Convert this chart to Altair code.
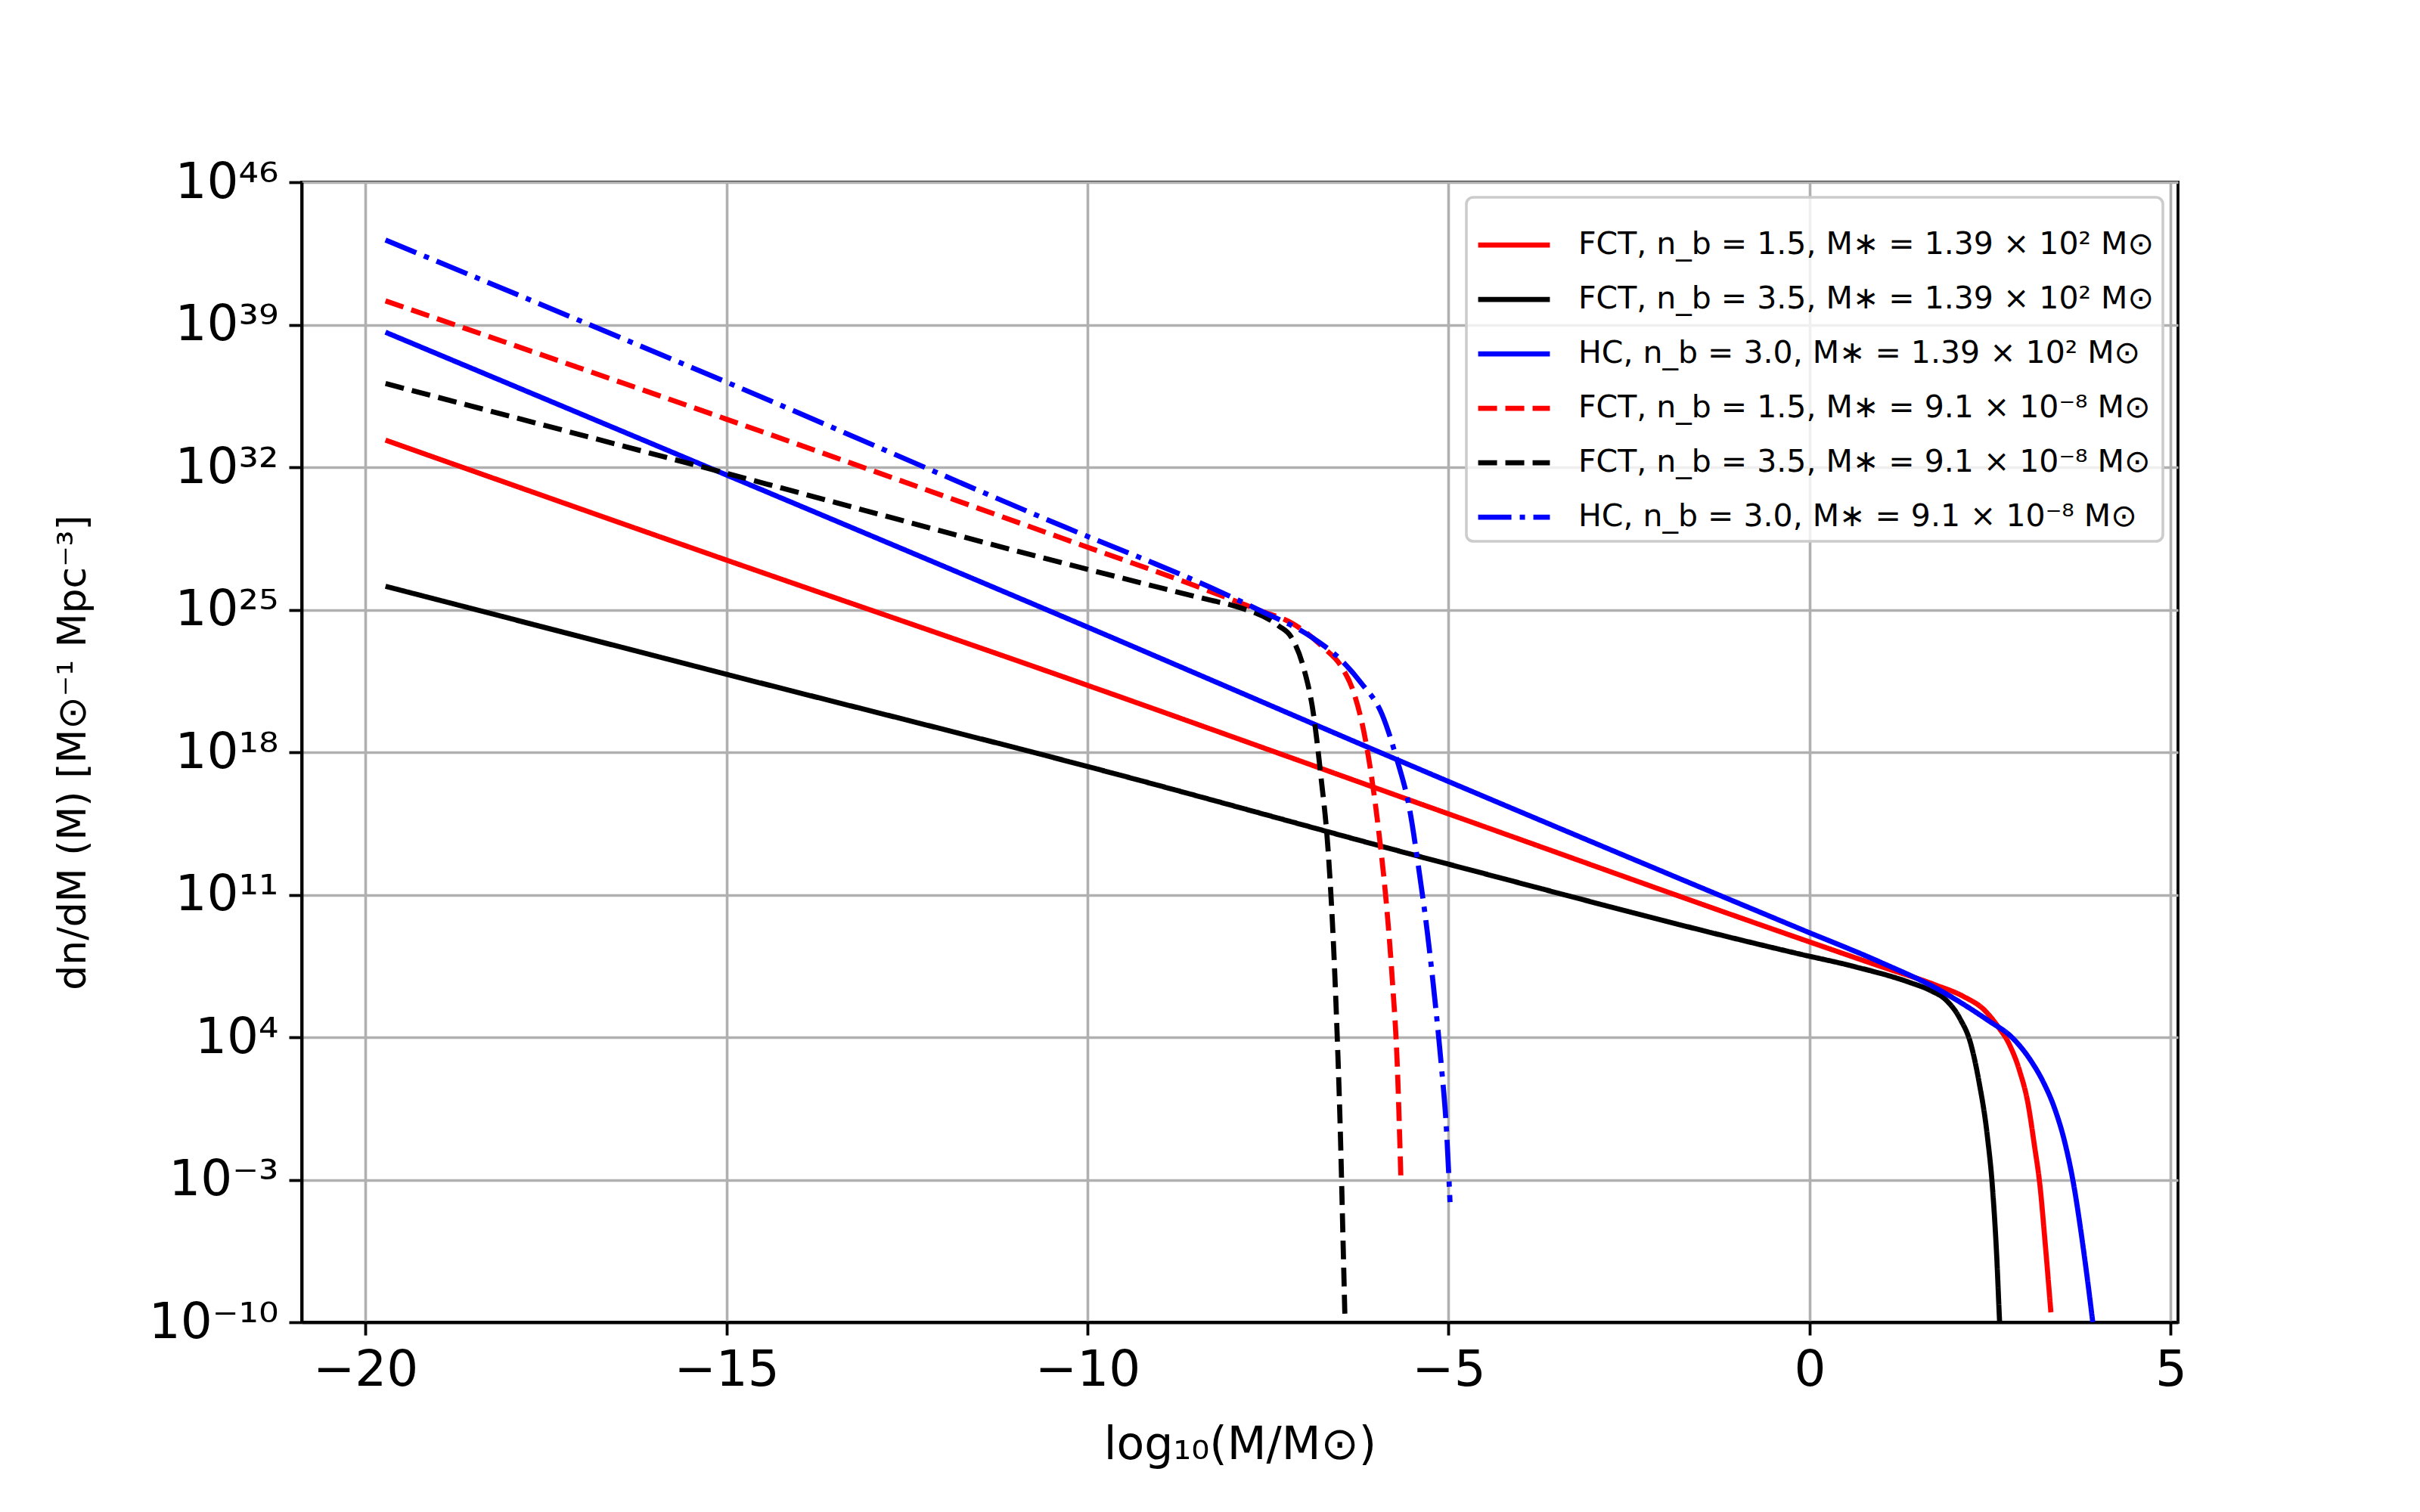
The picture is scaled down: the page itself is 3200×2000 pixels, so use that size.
import altair as alt
import numpy as np
import pandas as pd

# ---- data (x = log10(M/Msun), ly = log10(dn/dM)) ----
SERIES = [
    "FCT, n_b = 1.5, M\u2217 = 1.39 \u00d7 10\u00b2 M\u2299",
    "FCT, n_b = 3.5, M\u2217 = 1.39 \u00d7 10\u00b2 M\u2299",
    "HC, n_b = 3.0, M\u2217 = 1.39 \u00d7 10\u00b2 M\u2299",
    "FCT, n_b = 1.5, M\u2217 = 9.1 \u00d7 10\u207b\u2078 M\u2299",
    "FCT, n_b = 3.5, M\u2217 = 9.1 \u00d7 10\u207b\u2078 M\u2299",
    "HC, n_b = 3.0, M\u2217 = 9.1 \u00d7 10\u207b\u2078 M\u2299",
]
COLORS = ["#ff0000", "#000000", "#0000ff", "#ff0000", "#000000", "#0000ff"]
DASHES = [[1, 0], [1, 0], [1, 0], [25, 11], [25, 11], [44, 11, 7, 11]]

red_solid_x = [-19.72, -15.0, -10.38, -5.0, -0.13, 0.99, 1.74, 2.12, 2.42, 2.61, 2.76, 2.91, 3.02, 3.11, 3.19, 3.26, 3.34]
red_solid_ly = [33.33, 27.44, 21.76, 14.97, 8.84, 7.47, 6.57, 6.02, 5.33, 4.51, 3.68, 2.31, 0.80, -1.27, -3.33, -6.08, -9.51]

black_solid_x = [-19.72, -15.0, -10.0, -5.0, -0.13, 0.62, 1.37, 1.67, 1.89, 2.08, 2.23, 2.34, 2.46, 2.53, 2.59, 2.63, 2.66]
black_solid_ly = [26.15, 21.83, 17.3, 12.5, 8.08, 7.47, 6.71, 6.30, 5.82, 4.92, 3.68, 1.90, -0.85, -3.33, -6.77, -10.0, -12.0]

blue_solid_x = [-19.72, -15.0, -10.38, -5.0, -0.13, 0.99, 1.74, 2.49, 2.79, 3.06, 3.24, 3.39, 3.54, 3.66, 3.75, 3.84, 3.92]
blue_solid_ly = [38.63, 31.62, 24.72, 16.56, 9.32, 7.67, 6.43, 4.78, 4.03, 2.86, 1.76, 0.52, -1.27, -3.33, -5.39, -7.73, -10.0]

red_dash_x = [-19.72, -15.0, -10.38, -8.30, -7.60, -7.15, -6.73, -6.48, -6.31, -6.17, -6.07, -5.96, -5.87, -5.78, -5.71, -5.66]
red_dash_ly = [40.17, 34.36, 28.55, 25.9, 24.94, 24.3, 23.13, 22.18, 20.9, 18.95, 16.88, 13.9, 10.9, 6.86, 2.6, -3.0]

black_dash_x = [-19.72, -15.0, -10.29, -8.30, -7.94, -7.35, -7.18, -7.01, -6.87, -6.77, -6.67, -6.60, -6.55, -6.50, -6.46, -6.42]
black_dash_ly = [36.11, 31.70, 27.25, 25.47, 25.16, 24.2, 23.66, 22.18, 19.85, 16.88, 13.27, 9.03, 4.8, -0.5, -6.2, -12.0]

blue_dd_x = [-19.72, -15.0, -10.30, -8.30, -7.60, -6.90, -6.48, -6.21, -5.92, -5.72, -5.54, -5.41, -5.29, -5.19, -5.10, -5.03, -4.98]
blue_dd_ly = [43.16, 36.18, 29.04, 26.1, 24.94, 23.66, 22.5, 21.4, 19.85, 17.7, 15.2, 12.2, 9.03, 5.85, 2.6, -0.5, -4.1]

X_TICKS = [-20, -15, -10, -5, 0, 5]
Y_TICK_EXP = [46, 39, 32, 25, 18, 11, 4, -3, -10]

# ---- build table ----
pairs = [
    (red_solid_x, red_solid_ly), (black_solid_x, black_solid_ly), (blue_solid_x, blue_solid_ly),
    (red_dash_x, red_dash_ly), (black_dash_x, black_dash_ly), (blue_dd_x, blue_dd_ly),
]
frames = []
for name, (xs, lys) in zip(SERIES, pairs):
    frames.append(pd.DataFrame({"series": name, "x": xs, "y": np.power(10.0, np.array(lys))}))
df = pd.concat(frames, ignore_index=True)

sup = str.maketrans("0123456789-", "\u2070\u00b9\u00b2\u00b3\u2074\u2075\u2076\u2077\u2078\u2079\u207b")
e_expr = "round(log(datum.value)/LN10)"
chain = ""
for e in Y_TICK_EXP:
    chain += f"{e_expr} == {e} ? '10{str(e).translate(sup)}' : "
chain += "''"

W, H = 2481, 1508

base = alt.Chart(df).mark_line(clip=True, strokeWidth=6.75, interpolate="monotone").encode(
    x=alt.X("x:Q",
            scale=alt.Scale(domain=[-20.88, 5.1], nice=False, zero=False),
            axis=alt.Axis(values=X_TICKS, format="d",
                          title="log\u2081\u2080(M/M\u2299)",
                          titleX=W / 2, titleY=162, titleBaseline="middle", titleAlign="center")),
    y=alt.Y("y:Q",
            scale=alt.Scale(type="log", domain=[1e-10, 1e46], nice=False),
            axis=alt.Axis(values=[10.0 ** e for e in Y_TICK_EXP], labelExpr=chain,
                          title="dn/dM (M) [M\u2299\u207b\u00b9 Mpc\u207b\u00b3]",
                          titleX=-303, titleY=H / 2, titleAngle=270,
                          titleBaseline="middle", titleAlign="center", titleFontSize=52)),
    color=alt.Color("series:N", scale=alt.Scale(domain=SERIES, range=COLORS),
                    legend=alt.Legend(title=None)),
    strokeDash=alt.StrokeDash("series:N", scale=alt.Scale(domain=SERIES, range=DASHES),
                              legend=alt.Legend(title=None)),
)

layers = [base.transform_filter(alt.datum.series == s) for s in SERIES]

chart = alt.layer(*layers).properties(
    width=W, height=H,
    padding={"left": 391, "top": 233, "right": 300, "bottom": 230},
    autosize=alt.AutoSizeParams(type="none"),
    background="white",
).configure_view(
    stroke="black", strokeWidth=3.8
).configure_axis(
    labelFont="DejaVu Sans", labelFontSize=66, labelColor="black",
    labelPadding=14, labelFlush=False, labelOverlap=False,
    tickColor="black", tickWidth=3.8, tickSize=17,
    domainColor="black", domainWidth=3.8,
    gridColor="#b0b0b0", gridWidth=3.6,
    titleFont="DejaVu Sans", titleFontSize=60, titleFontWeight="normal", titleColor="black",
).configure_legend(
    orient="top-right", offset=20, padding=12, rowPadding=1,
    labelFont="DejaVu Sans", labelFontSize=41, labelColor="black", labelLimit=3000,
    labelOffset=34, symbolType="stroke", symbolSize=9000, symbolStrokeWidth=6.75,
    strokeColor="#cccccc", strokeWidth=3.6, fillColor="rgba(255,255,255,0.8)",
    cornerRadius=9,
)

chart.save("out.html", embed_options={"renderer": "svg", "actions": False})
